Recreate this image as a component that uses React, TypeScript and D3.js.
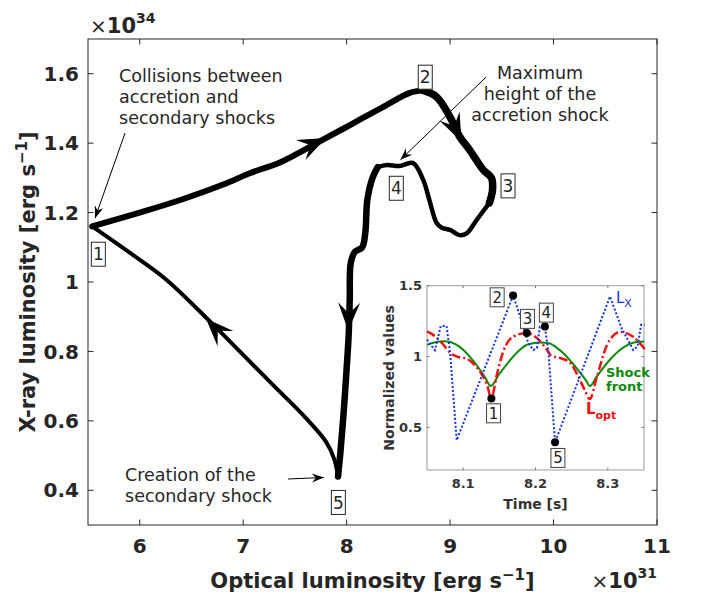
import React from "react";
import * as d3 from "d3";

// main loop, [optical (1e31), x-ray (1e34)]
const legA = [
  [5.54, 1.16], [6.0, 1.2], [6.4, 1.237], [6.8, 1.28], [7.07, 1.314], [7.36, 1.345],
  [7.74, 1.405], [8.05, 1.455], [8.35, 1.504], [8.61, 1.545], [8.74, 1.552],
];
const legB = [
  [8.74, 1.552], [8.87, 1.533], [9.0, 1.475], [9.09, 1.42], [9.19, 1.38], [9.32, 1.323],
  [9.4, 1.3], [9.41, 1.265], [9.38, 1.228],
];
const legC = [
  [9.38, 1.228], [9.26, 1.18], [9.16, 1.14], [9.09, 1.135], [9.0, 1.15],
  [8.92, 1.156], [8.87, 1.17], [8.8, 1.236], [8.74, 1.294], [8.64, 1.343], [8.51, 1.334],
  [8.39, 1.337], [8.3, 1.331],
];
const legD = [
  [8.3, 1.331], [8.25, 1.3], [8.2, 1.236], [8.18, 1.141], [8.15, 1.1], [8.08, 1.087],
  [8.04, 1.055], [8.03, 0.95], [8.02, 0.85], [8.0, 0.75], [7.97, 0.62], [7.94, 0.51],
  [7.917, 0.44],
];
const legE = [
  [7.917, 0.44], [7.88, 0.49], [7.8, 0.54], [7.6, 0.61], [7.3, 0.7], [7.0, 0.79],
  [6.7, 0.88], [6.26, 1.006], [5.9, 1.085], [5.54, 1.16],
];
const legWidths = [6, 7.5, 4.5, 6.5, 4];

// flow arrows on the loop: tip and a point behind it
const loopArrows = [
  { tip: [7.8, 1.415], back: [7.45, 1.365] },
  { tip: [9.11, 1.405], back: [9.0, 1.475] },
  { tip: [8.015, 0.86], back: [8.03, 1.0] },
  { tip: [6.64, 0.895], back: [6.9, 0.815] },
];

const loopLabels = [
  { t: "1", p: [5.6, 1.08] },
  { t: "2", p: [8.76, 1.59] },
  { t: "3", p: [9.56, 1.277] },
  { t: "4", p: [8.48, 1.27] },
  { t: "5", p: [7.92, 0.365] },
];

const notes = [
  { lines: ["Collisions between", "accretion and", "secondary shocks"], p: [5.8, 1.576], anchor: "start" },
  { lines: ["Maximum", "height of the", "accretion shock"], p: [9.869, 1.585], anchor: "middle" },
  { lines: ["Creation of the", "secondary shock"], p: [5.858, 0.427], anchor: "start" },
];
const noteArrows = [
  { from: [5.858, 1.429], to: [5.568, 1.184] },
  { from: [9.347, 1.59], to: [8.52, 1.352] },
  { from: [7.433, 0.4325], to: [7.78, 0.437] },
];

const xTicks = [6, 7, 8, 9, 10, 11];
const yTicks = [0.4, 0.6, 0.8, 1, 1.2, 1.4, 1.6];

// inset: normalized values vs time
const shockT = [8.05, 8.06, 8.075, 8.09, 8.1, 8.11, 8.12, 8.13, 8.138, 8.15, 8.16, 8.17, 8.18, 8.19, 8.206, 8.22, 8.23, 8.24, 8.25, 8.26, 8.27, 8.275, 8.285, 8.295, 8.305, 8.315, 8.325, 8.335, 8.35];
const shockV = [1.083, 1.1, 1.108, 1.086, 1.048, 0.994, 0.93, 0.856, 0.793, 0.878, 0.944, 1.005, 1.055, 1.087, 1.1, 1.092, 1.06, 1.017, 0.96, 0.897, 0.83, 0.793, 0.862, 0.93, 0.99, 1.04, 1.076, 1.098, 1.106];
const optT = [8.05, 8.058, 8.07, 8.082, 8.093, 8.105, 8.116, 8.125, 8.133, 8.139, 8.146, 8.155, 8.169, 8.188, 8.202, 8.216, 8.222, 8.234, 8.248, 8.259, 8.268, 8.275, 8.285, 8.299, 8.317, 8.335, 8.351];
const optV = [1.177, 1.155, 1.1, 1.026, 0.998, 0.985, 0.94, 0.88, 0.8, 0.705, 0.86, 1.03, 1.14, 1.167, 1.13, 1.047, 1.005, 0.99, 0.955, 0.86, 0.765, 0.7, 0.86, 1.083, 1.174, 1.14, 1.054];
const xrT = [8.05, 8.061, 8.069, 8.077, 8.082, 8.091, 8.169, 8.179, 8.19, 8.197, 8.202, 8.206, 8.213, 8.218, 8.227, 8.303, 8.319, 8.335, 8.341, 8.346, 8.351];
const xrV = [1.12, 1.045, 1.215, 1.215, 1.026, 0.41, 1.43, 1.28, 1.095, 1.047, 1.06, 1.212, 1.212, 1.026, 0.395, 1.424, 1.2, 1.047, 1.07, 1.224, 1.224];
const insetDots = [[8.139, 0.705], [8.169, 1.43], [8.188, 1.167], [8.213, 1.212], [8.227, 0.395]];
const insetLabels = [
  { t: "1", p: [8.142, 0.6] },
  { t: "2", p: [8.147, 1.418] },
  { t: "3", p: [8.189, 1.266] },
  { t: "4", p: [8.215, 1.31] },
  { t: "5", p: [8.231, 0.285] },
];
const insetXTicks = [8.1, 8.2, 8.3];
const insetYTicks = [0.5, 1, 1.5];

const FONT = "DejaVu Sans";
const INK = "#262626";

const zip = (a: number[], b: number[]) => a.map((v, i) => [v, b[i]]);

const App: React.FC = () => {
  const x = d3.scaleLinear().domain([5.5, 11]).range([88, 657]);
  const y = d3.scaleLinear().domain([0.3, 1.7]).range([525, 39]);
  const ix = d3.scaleLinear().domain([8.05, 8.35]).range([427, 644]);
  const iy = d3.scaleLinear().domain([0.2, 1.5]).range([470, 285.7]);

  const loopLine = d3
    .line<number[]>()
    .x((d) => x(d[0]))
    .y((d) => y(d[1]))
    .curve(d3.curveCatmullRom.alpha(0.5));
  const insetSmooth = d3
    .line<number[]>()
    .x((d) => ix(d[0]))
    .y((d) => iy(d[1]))
    .curve(d3.curveMonotoneX);
  const insetLinear = d3
    .line<number[]>()
    .x((d) => ix(d[0]))
    .y((d) => iy(d[1]));

  const head = (tx: number, ty: number, bx: number, by: number, L: number, w: number, n: number) => {
    const ang = (Math.atan2(ty - by, tx - bx) * 180) / Math.PI;
    return (
      <path
        d={`M0,0 L${-L},${-w} L${-n},0 L${-L},${w} Z`}
        transform={`translate(${tx},${ty}) rotate(${ang})`}
        fill="black"
      />
    );
  };

  const [x0, x1] = x.range();
  const [y0, y1] = y.range();
  const [ix0, ix1] = ix.range();
  const [iy0, iy1] = iy.range();

  return (
    <div style={{ position: "absolute", left: 0, top: 0 }}>
      <svg width={703} height={598} fontFamily={FONT} style={{ display: "block", background: "white" }}>
        {/* main axes box */}
        <rect x={x0} y={y1} width={x1 - x0} height={y0 - y1} fill="white" stroke={INK} strokeWidth={1} />
        {xTicks.map((t) => (
          <g key={"xt" + t}>
            <line x1={x(t)} x2={x(t)} y1={y0} y2={y0 - 5.5} stroke={INK} />
            <line x1={x(t)} x2={x(t)} y1={y1} y2={y1 + 5.5} stroke={INK} />
            <text x={x(t)} y={553} textAnchor="middle" fontSize={20} fontWeight="bold" fill={INK}>
              {t}
            </text>
          </g>
        ))}
        {yTicks.map((t) => (
          <g key={"yt" + t}>
            <line x1={x0} x2={x0 + 5.5} y1={y(t)} y2={y(t)} stroke={INK} />
            <line x1={x1} x2={x1 - 5.5} y1={y(t)} y2={y(t)} stroke={INK} />
            <text x={79} y={y(t)} dy="0.36em" textAnchor="end" fontSize={20} fontWeight="bold" fill={INK}>
              {String(t)}
            </text>
          </g>
        ))}
        <text x={(x0 + x1) / 2} y={588} textAnchor="middle" fontSize={21} fontWeight="bold" fill={INK}>
          Optical luminosity [erg s<tspan dy={-8} fontSize={15}>−1</tspan>
          <tspan dy={8}>]</tspan>
        </text>
        <text
          transform={`translate(35,${(y0 + y1) / 2}) rotate(-90)`}
          textAnchor="middle"
          fontSize={21}
          fontWeight="bold"
          fill={INK}
        >
          X-ray luminosity [erg s<tspan dy={-8} fontSize={15}>−1</tspan>
          <tspan dy={8}>]</tspan>
        </text>
        <text x={x1} y={588} textAnchor="end" fill={INK}>
          <tspan fontSize={20}>×</tspan>
          <tspan fontSize={21} fontWeight="bold">10</tspan>
          <tspan fontSize={14} fontWeight="bold" dy={-10}>31</tspan>
        </text>
        <text x={90} y={33} fill={INK}>
          <tspan fontSize={20}>×</tspan>
          <tspan fontSize={21} fontWeight="bold">10</tspan>
          <tspan fontSize={14} fontWeight="bold" dy={-10}>34</tspan>
        </text>

        {/* loop */}
        {[legA, legB, legC, legD, legE].map((leg, i) => (
          <path
            key={"leg" + i}
            d={loopLine(leg) || ""}
            fill="none"
            stroke="black"
            strokeWidth={legWidths[i]}
            strokeLinejoin="round"
            strokeLinecap="round"
          />
        ))}
        {loopArrows.map((a, i) => (
          <g key={"la" + i}>{head(x(a.tip[0]), y(a.tip[1]), x(a.back[0]), y(a.back[1]), 28, 11, 17)}</g>
        ))}
        {loopLabels.map((l) => (
          <g key={"ll" + l.t}>
            <rect x={x(l.p[0]) - 7} y={y(l.p[1]) - 12} width={14} height={24} fill="white" stroke={INK} strokeWidth={1} />
            <text x={x(l.p[0])} y={y(l.p[1])} dy="0.36em" textAnchor="middle" fontSize={17} fill={INK}>
              {l.t}
            </text>
          </g>
        ))}

        {/* annotations */}
        {notes.map((n, i) => (
          <text key={"n" + i} x={x(n.p[0])} y={y(n.p[1])} textAnchor={n.anchor as any} fontSize={17.5} fill={INK}>
            {n.lines.map((s, j) => (
              <tspan key={j} x={x(n.p[0])} dy={j === 0 ? 0 : 21}>
                {s}
              </tspan>
            ))}
          </text>
        ))}
        {noteArrows.map((a, i) => (
          <g key={"na" + i}>
            <line x1={x(a.from[0])} y1={y(a.from[1])} x2={x(a.to[0])} y2={y(a.to[1])} stroke="black" strokeWidth={1} />
            {head(x(a.to[0]), y(a.to[1]), x(a.from[0]), y(a.from[1]), 12, 4.5, 8)}
          </g>
        ))}

        {/* inset */}
        <rect x={ix0} y={iy1} width={ix1 - ix0} height={iy0 - iy1} fill="white" stroke="#9a9a9a" strokeWidth={1} />
        {insetXTicks.map((t) => (
          <g key={"ixt" + t}>
            <line x1={ix(t)} x2={ix(t)} y1={iy0} y2={iy0 - 2.5} stroke="#777" />
            <line x1={ix(t)} x2={ix(t)} y1={iy1} y2={iy1 + 2.5} stroke="#777" />
            <text x={ix(t)} y={488} textAnchor="middle" fontSize={13} fontWeight="bold" fill="#333">
              {t.toFixed(1)}
            </text>
          </g>
        ))}
        {insetYTicks.map((t) => (
          <g key={"iyt" + t}>
            <line x1={ix0} x2={ix0 + 2.5} y1={iy(t)} y2={iy(t)} stroke="#777" />
            <line x1={ix1} x2={ix1 - 2.5} y1={iy(t)} y2={iy(t)} stroke="#777" />
            <text x={422} y={iy(t)} dy="0.36em" textAnchor="end" fontSize={13} fontWeight="bold" fill="#333">
              {String(t)}
            </text>
          </g>
        ))}
        <text x={(ix0 + ix1) / 2} y={509} textAnchor="middle" fontSize={14} fontWeight="bold" fill="#333">
          Time [s]
        </text>
        <text
          transform={`translate(394,${(iy0 + iy1) / 2}) rotate(-90)`}
          textAnchor="middle"
          fontSize={14}
          fontWeight="bold"
          fill="#333"
        >
          Normalized values
        </text>
        <path d={insetSmooth(zip(shockT, shockV)) || ""} fill="none" stroke="#0a8a0a" strokeWidth={2} />
        <path
          d={insetSmooth(zip(optT, optV)) || ""}
          fill="none"
          stroke="#ee1111"
          strokeWidth={2.5}
          strokeDasharray="9 3 2 3"
        />
        <path
          d={insetLinear(zip(xrT, xrV)) || ""}
          fill="none"
          stroke="#1433e6"
          strokeWidth={2}
          strokeDasharray="2 2"
        />
        {insetDots.map((d, i) => (
          <circle key={"d" + i} cx={ix(d[0])} cy={iy(d[1])} r={4} fill="black" />
        ))}
        {insetLabels.map((l) => (
          <g key={"il" + l.t}>
            <rect x={ix(l.p[0]) - 7} y={iy(l.p[1]) - 9.5} width={14} height={19} fill="white" stroke="#444" strokeWidth={1} />
            <text x={ix(l.p[0])} y={iy(l.p[1])} dy="0.36em" textAnchor="middle" fontSize={15} fill="#222">
              {l.t}
            </text>
          </g>
        ))}
        <text x={616} y={303} fontSize={15} fill="#1433e6">
          L<tspan fontSize={11} dy={4}>X</tspan>
        </text>
        <text x={606} y={377} fontSize={13} fontWeight="bold" fill="#0a8a0a">
          Shock
          <tspan x={606} dy={14}>front</tspan>
        </text>
        <text x={586} y={414} fontSize={15} fontWeight="bold" fill="#ee1111">
          L<tspan fontSize={11} dy={5}>opt</tspan>
        </text>
      </svg>
    </div>
  );
};

export default App;
